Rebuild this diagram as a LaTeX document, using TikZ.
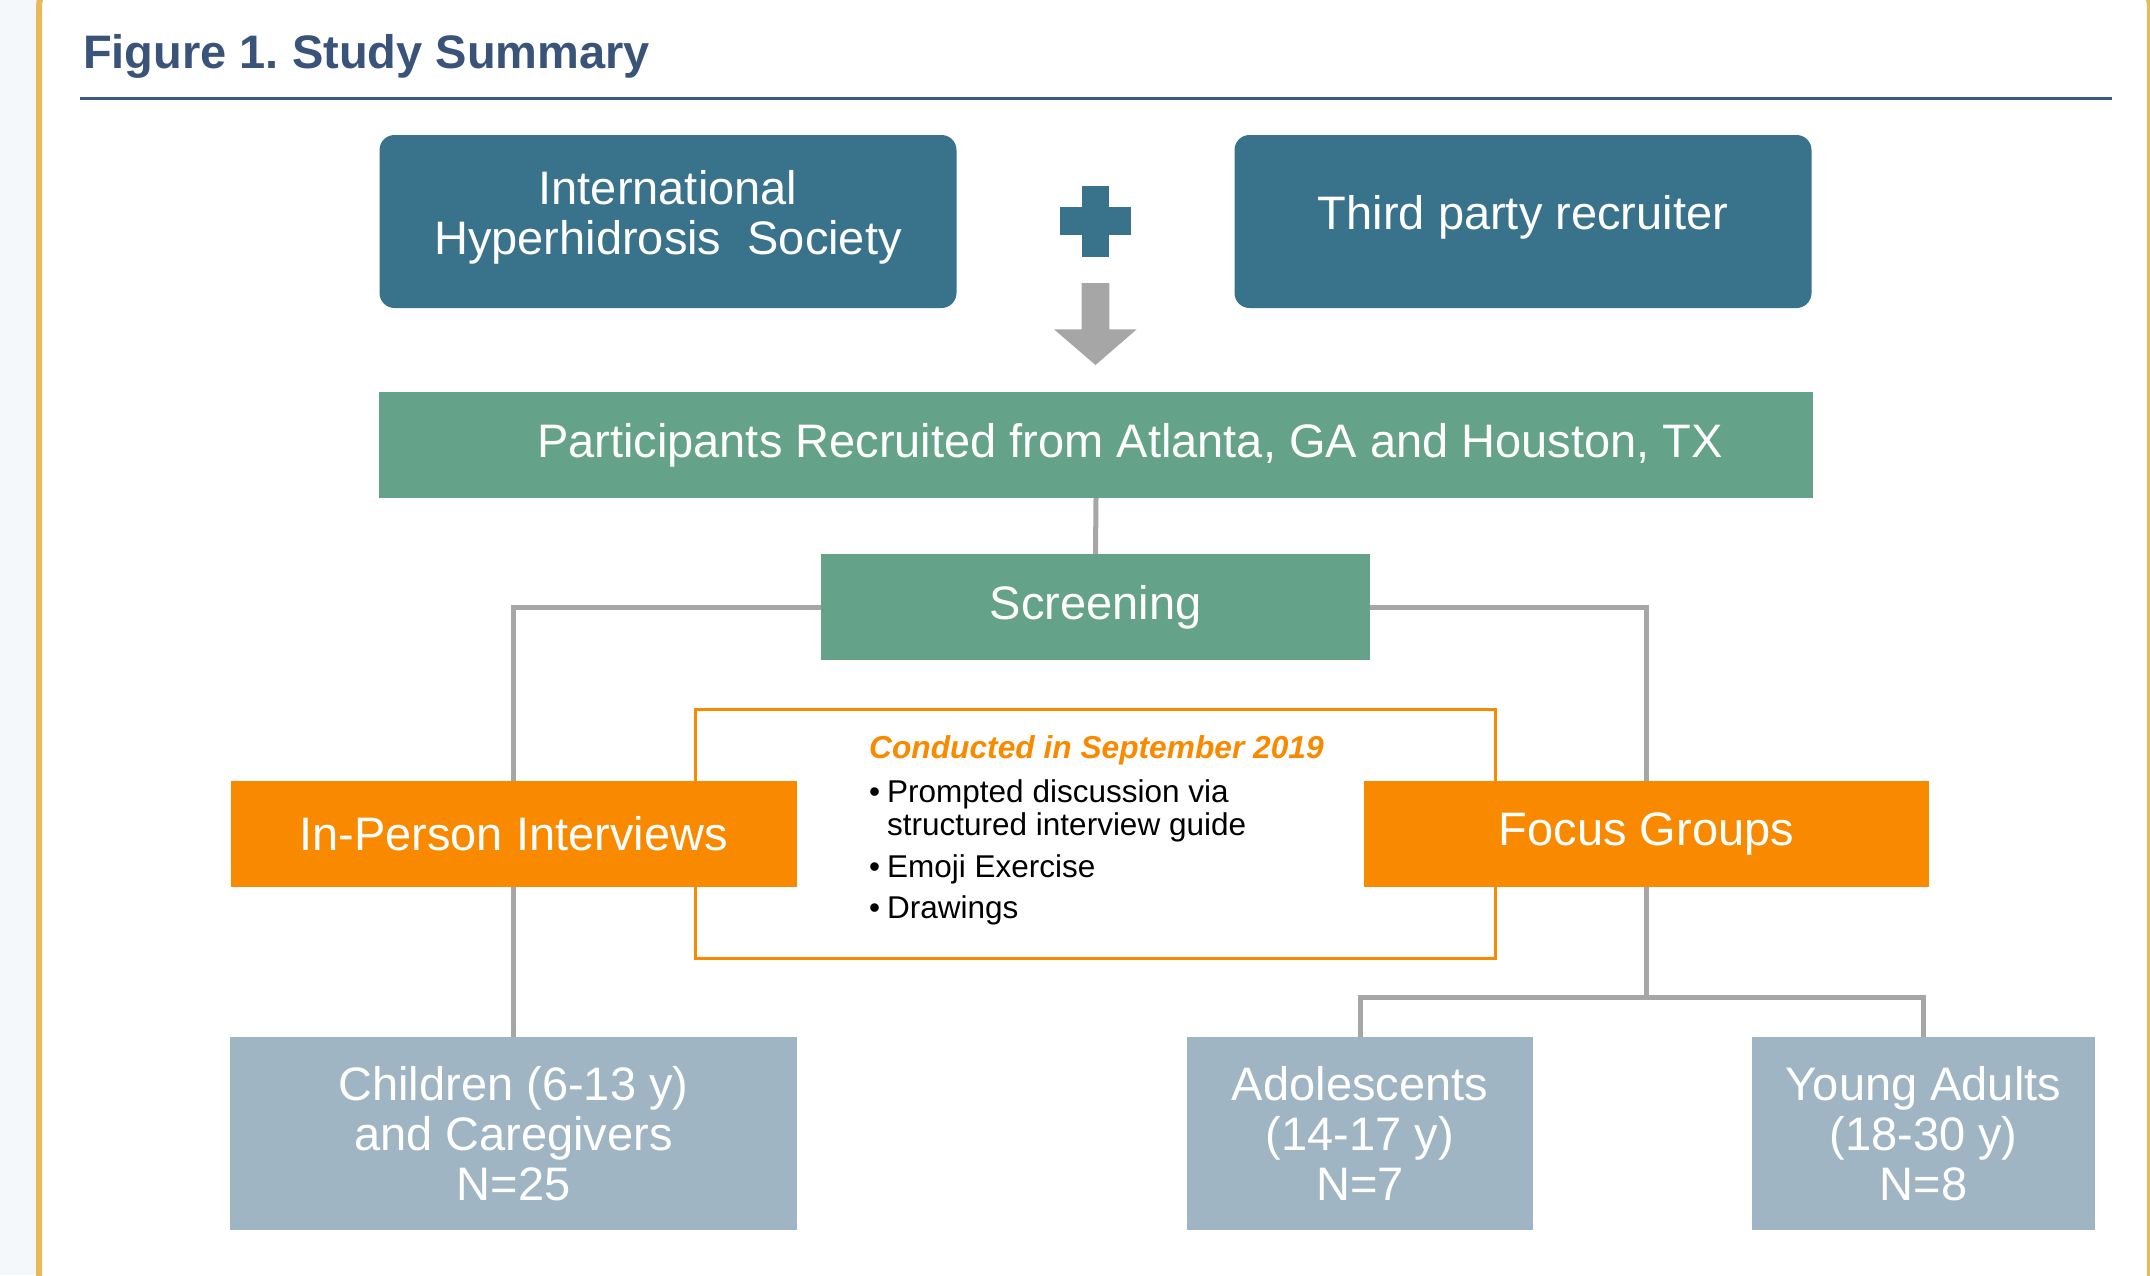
\documentclass[tikz,border=0pt]{standalone}
\usepackage{fontspec}
\setmainfont{Liberation Sans}
\frenchspacing
\definecolor{hhsteal}{HTML}{38728B}
\definecolor{hhssage}{HTML}{65A28A}
\definecolor{hhsorange}{HTML}{F98A00}
\definecolor{hhsslate}{HTML}{A0B5C3}
\definecolor{hhsgray}{HTML}{A6A6A6}
\definecolor{hhstitle}{HTML}{3A5479}
\definecolor{hhsrule}{HTML}{3E5A82}
\definecolor{hhsgold}{HTML}{E8B958}
\definecolor{hhspale}{HTML}{F4F8FB}
\newcommand\bxfont{\fontsize{47}{50}\selectfont}
\newcommand\notefont{\fontsize{31.5}{34}\selectfont}
\tikzset{
  box/.style={rectangle, inner sep=0pt, text=white, align=center, font=\bxfont},
  topbox/.style={box, fill=hhsteal, rounded corners=15pt, minimum width=577pt, minimum height=173pt, text depth=18pt},
  greenbox/.style={box, fill=hhssage, minimum height=106pt},
  orangebox/.style={box, fill=hhsorange, minimum width=566pt, minimum height=106pt},
  agebox/.style={box, fill=hhsslate, minimum height=193pt},
  link/.style={draw=hhsgray, line width=5pt},
  noteline/.style={anchor=base west, inner sep=0pt, font=\notefont, text=black},
}
\begin{document}
\begin{tikzpicture}[x=1pt, y=-1pt]
\useasboundingbox (0,0) rectangle (2150,1275);
\begin{scope}
  \clip (0,0) rectangle (2150,1275);
  % page background and framed panel
  \fill[white] (0,0) rectangle (2150,1275);
  \fill[hhspale] (0,0) rectangle (39,1275);
  \draw[hhsgold, line width=6pt, rounded corners=20pt] (39,-14) rectangle (2150,1300);
\end{scope}

% heading
\node[anchor=base west, inner sep=0pt, text=hhstitle, font=\fontsize{47}{50}\selectfont\bfseries]
  (title) at (83,68) {Figure 1. Study Summary};
\draw[hhsrule, line width=3pt] (80,98) -- (2112,98);

% recruitment sources
\node[topbox] (ihs) at (668,221.5) {International\\Hyperhidrosis\ \ Society};
\node[topbox] (tpr) at (1523,221.5) {Third party recruiter};

% plus sign
\fill[hhsteal] (1081.7,186) rectangle (1109.3,256.7);
\fill[hhsteal] (1060,207.3) rectangle (1131,235.3);

% block arrow
\fill[hhsgray] (1081.7,283) -- (1109.3,283) -- (1109.3,329.3) -- (1136.7,329.3)
  -- (1095.5,365) -- (1054,329.3) -- (1081.7,329.3) -- cycle;

% nodes of the flow
\node[greenbox, minimum width=1434pt] (part) at (1096,445)
  {\hspace*{68pt}Participants Recruited from Atlanta, GA and Houston, TX};
\node[greenbox, minimum width=549pt] (screen) at (1095.5,607) {Screening};

\coordinate (fork) at (1646.5,997);

% connectors (drawn beneath the boxes)
\draw[link] (part.south) -- (screen.north);
\draw[link] (screen.west) -| (513.5,834);
\draw[link] (screen.east) -| (1646.5,834);
\draw[link] (513.5,834) -- (513.5,1133.5);
\draw[link] (1646.5,834) -- (fork);
\draw[link, line join=miter] (1360,1133.5) |- (fork) -| (1923.5,1133.5);

% note box with study methods
\node[draw=hhsorange, line width=3pt, minimum width=800pt, minimum height=249pt, inner sep=0pt]
  (note) at (1095,833.5) {};

\node[orangebox] (inperson) at (513.5,834) {In-Person Interviews};
\node[orangebox, minimum width=565pt] (focus) at (1646.5,834) {Focus Groups};

\node[agebox, minimum width=567pt] (child) at (513.5,1133.5) {Children (6-13 y)\\and Caregivers\\N=25};
\node[agebox, minimum width=346pt] (adol) at (1360,1133.5) {Adolescents\\(14-17 y)\\N=7};
\node[agebox, minimum width=343pt] (young) at (1923.5,1133.5) {Young Adults\\(18-30 y)\\N=8};

\node[noteline, text=hhsorange, font=\fontsize{31.7}{34}\selectfont\bfseries\itshape] (when) at (869,758)
  {Conducted in September 2019};
\node[noteline] (m1) at (869,802) {\makebox[18pt][l]{•}Prompted discussion via};
\node[noteline] (m1b) at (887,835) {structured interview guide};
\node[noteline] (m2) at (869,877) {\makebox[18pt][l]{•}Emoji Exercise};
\node[noteline] (m3) at (869,918) {\makebox[18pt][l]{•}Drawings};
\end{tikzpicture}
\end{document}
